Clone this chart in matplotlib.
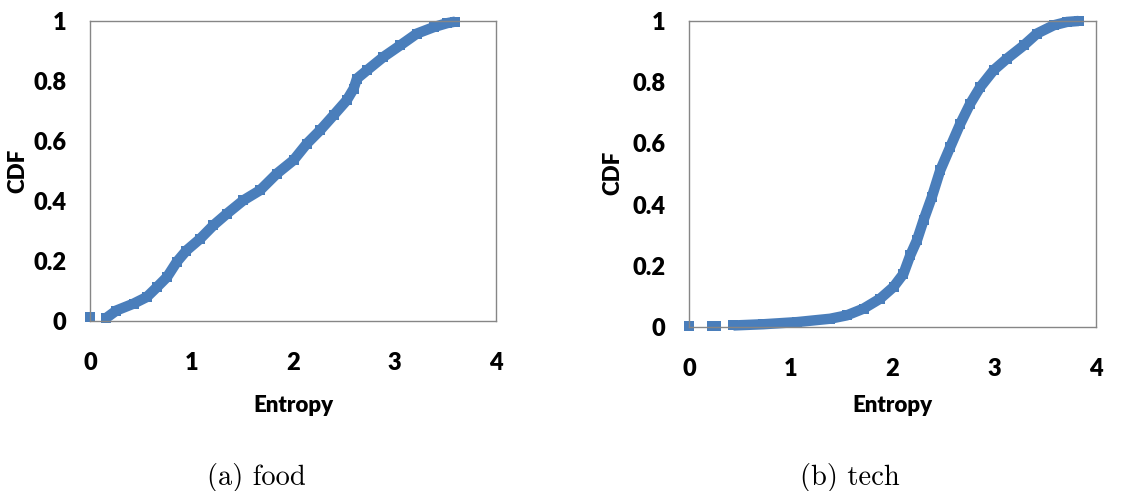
import matplotlib
matplotlib.use("Agg")
import matplotlib.pyplot as plt

# CDF of entropy
food_x = [0.16, 0.26, 0.43, 0.56, 0.66, 0.76, 0.855, 0.95, 1.085, 1.216, 1.35, 1.51,
          1.676, 1.84, 2.005, 2.136, 2.268, 2.40, 2.53, 2.597, 2.63, 2.73, 2.89,
          3.057, 3.22, 3.39, 3.52, 3.6]
food_y = [0.01, 0.035, 0.058, 0.08, 0.113, 0.147, 0.197, 0.235, 0.274, 0.319, 0.358, 0.402,
          0.436, 0.491, 0.536, 0.591, 0.636, 0.686, 0.736, 0.774, 0.808, 0.836, 0.88,
          0.919, 0.958, 0.98, 0.993, 0.998]
food_iso_x = [0.0]
food_iso_y = [0.012]

tech_x = [0.436, 0.73, 1.06, 1.387, 1.55, 1.715, 1.88, 2.01, 2.108, 2.174, 2.24, 2.305,
          2.387, 2.469, 2.567, 2.666, 2.764, 2.862, 2.993, 3.125, 3.289, 3.42, 3.584,
          3.715, 3.83]
tech_y = [0.005, 0.009, 0.016, 0.027, 0.038, 0.06, 0.093, 0.131, 0.174, 0.234, 0.283, 0.349,
          0.425, 0.512, 0.588, 0.664, 0.73, 0.784, 0.839, 0.877, 0.92, 0.959, 0.986,
          0.997, 1.0]
tech_iso_x = [0.0, 0.23, 0.27]
tech_iso_y = [0.004, 0.003, 0.003]

x_ticks = [0, 1, 2, 3, 4]
y_ticks = [0, 0.2, 0.4, 0.6, 0.8, 1]
y_tick_labels = ["0", "0.2", "0.4", "0.6", "0.8", "1"]

blue = "#4A7EBB"
W, H = 1131, 491
fs = 17

fig = plt.figure(figsize=(W / 100, H / 100), dpi=100)

# axes boxes in pixels: (left, top, right, bottom)
boxes = [(90, 21, 496, 321), (689, 21, 1096, 327)]
panels = [
    (food_x, food_y, food_iso_x, food_iso_y, "(a) food", 256, 18, 171),
    (tech_x, tech_y, tech_iso_x, tech_iso_y, "(b) tech", 850, 613, 173),
]

for (l, t, r, b), (xs, ys, ix, iy, cap, cx, ylx, yly) in zip(boxes, panels):
    ax = fig.add_axes([l / W, 1 - b / H, (r - l) / W, (b - t) / H])
    ax.plot(xs, ys, color=blue, lw=7.5, marker="s", ms=7, mew=0,
            solid_capstyle="butt", solid_joinstyle="miter", clip_on=False)
    ax.plot(ix, iy, color=blue, lw=0, marker="s", ms=7.5, mew=0, clip_on=False)
    ax.set_xlim(0, 4)
    ax.set_ylim(0, 1)
    ax.set_xticks(x_ticks)
    ax.set_yticks(y_ticks)
    ax.set_yticklabels(y_tick_labels)
    ax.tick_params(length=0, labelsize=fs, labelcolor="black")
    ax.tick_params(axis="x", pad=22)
    ax.tick_params(axis="y", pad=17)
    for lab in ax.get_xticklabels() + ax.get_yticklabels():
        lab.set_fontfamily("Lato")
        lab.set_fontweight("heavy")
    for s in ax.spines.values():
        s.set_color("#868686")
        s.set_linewidth(1)
    fig.text((l + r) / 2 / W, 1 - 405 / H, "Entropy", fontsize=16, fontweight="heavy",
             family="Lato", ha="center", va="center")
    fig.text(ylx / W, 1 - yly / H, "CDF", fontsize=16, fontweight="heavy",
             family="Lato", ha="center", va="center", rotation=90)
    fig.text(cx / W, 1 - 477 / H, cap, family="cmr10", fontsize=20.5, ha="center", va="center")

fig.savefig("out.png", dpi=100)
